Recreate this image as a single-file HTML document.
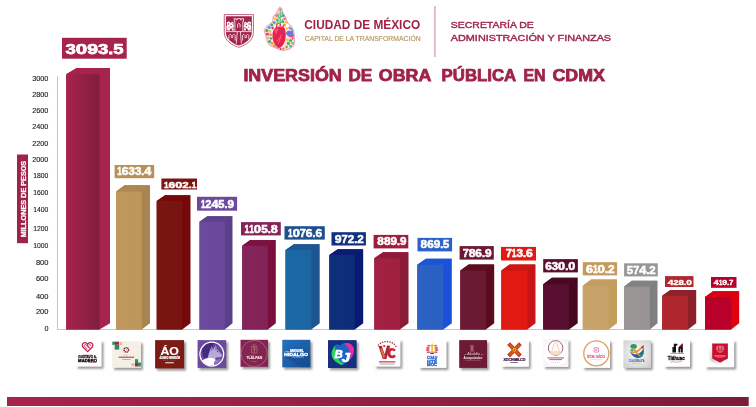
<!DOCTYPE html>
<html><head><meta charset="utf-8"><title>Inversión de obra pública en CDMX</title>
<style>
html,body{margin:0;padding:0;background:#fff;}
body{width:756px;height:407px;overflow:hidden;font-family:"Liberation Sans",sans-serif;}
svg{display:block;font-family:"Liberation Sans",sans-serif;}
</style></head><body>
<svg width="756" height="407" viewBox="0 0 756 407">
<rect width="756" height="407" fill="#fff"/>
<g style="opacity:0.999">
<!-- shield -->
<g id="shield">
<path d="M224.3,14.6 H253.4 V32.5 C253.4,40.5 246,45.2 238.85,47.3 C231.7,45.2 224.3,40.5 224.3,32.5 Z" fill="#fff" stroke="#a6234b" stroke-width="0.7"/>
<path d="M225.9,16.2 H251.8 V32.3 C251.8,39.4 245.2,43.6 238.85,45.6 C232.5,43.6 225.9,39.4 225.9,32.3 Z" fill="#a6234b"/>
<g fill="none" stroke="#fff" stroke-width="0.75">
<path d="M225.9,31.6 H251.8"/>
<path d="M234.9,31.6 V21.4 H234.2 V18.6 H235.9 V19.9 H237.2 V18.6 H240.5 V19.9 H241.8 V18.6 H243.5 V21.4 H242.8 V31.6"/>
<path d="M237.6,27.6 V24.2 Q238.85,22.6 240.1,24.2 V27.6"/>
<path d="M228.9,39.4 V35.4 Q230.1,33 231.3,35.4 V37.6 H232.7 V35.4 Q233.9,33 235.1,35.4 V40.6"/>
<path d="M242.6,40.6 V35.4 Q243.8,33 245,35.4 V37.6 H246.4 V35.4 Q247.6,33 248.8,35.4 V39.4"/>
<path d="M237.3,31.6 L236.3,43.6 M240.4,31.6 L241.4,43.6"/>
</g>
<g fill="#fff">
<path d="M226.6,30.4 L226.4,27 L227.2,24.4 L226.6,22.6 L228.2,21.4 L229.8,21.8 L230.6,23.2 L232,21.8 L233.6,22.6 L233.4,24.6 L234.2,26.4 L233.2,27.6 L234,30.4 L232,30.4 L231.6,28.6 L230.2,28.4 L229.8,30.4 Z"/>
<path d="M251.1,30.4 L251.3,27 L250.5,24.4 L251.1,22.6 L249.5,21.4 L247.9,21.8 L247.1,23.2 L245.7,21.8 L244.1,22.6 L244.3,24.6 L243.5,26.4 L244.5,27.6 L243.7,30.4 L245.7,30.4 L246.1,28.6 L247.5,28.4 L247.9,30.4 Z"/>
</g>
<g fill="#a6234b">
<circle cx="228.6" cy="24" r="0.65"/><circle cx="231.2" cy="25.4" r="0.7"/><circle cx="229" cy="27" r="0.6"/><circle cx="232.4" cy="23.6" r="0.45"/><circle cx="232.2" cy="28" r="0.5"/><circle cx="227.6" cy="29" r="0.45"/>
<circle cx="249.1" cy="24" r="0.65"/><circle cx="246.5" cy="25.4" r="0.7"/><circle cx="248.7" cy="27" r="0.6"/><circle cx="245.3" cy="23.6" r="0.45"/><circle cx="245.5" cy="28" r="0.5"/><circle cx="250.1" cy="29" r="0.45"/>
</g>
</g>
<!-- cdmx heart emblem -->
<g id="cdmx">
<path d="M279.9,7.2 L281.9,9.3 L283.2,13.9 L285.8,17.9 L287.8,23.2 L291.8,27.2 L293.8,32.5 L294.5,39.1 L293.8,45.8 L289.2,49.1 L282.5,50.5 L275.9,47.8 L270.6,45.8 L267.3,41.8 L266,36.5 L264.2,30.5 L267.3,25.9 L272.6,21.9 L273.2,16.6 L275.9,13.9 Z" fill="#fbe3ea" stroke="#f3adc2" stroke-width="1.3" stroke-linejoin="round"/>
<g>
<circle cx="276.6" cy="15.6" r="1.3" fill="#ef6a9a"/><circle cx="275" cy="18.6" r="1.4" fill="#f3c623"/><circle cx="277.4" cy="20.2" r="1.2" fill="#3fae5c"/>
<circle cx="274.2" cy="22.6" r="1.4" fill="#2e9fd8"/><circle cx="276.8" cy="24" r="1.3" fill="#f39a23"/><circle cx="271.8" cy="25" r="1.5" fill="#3fae5c"/>
<circle cx="269.2" cy="27.6" r="1.5" fill="#2e9fd8"/><circle cx="272.6" cy="28" r="1.2" fill="#e8305a"/><circle cx="266.8" cy="30.6" r="1.5" fill="#3fae5c"/>
<circle cx="269.8" cy="31.4" r="1.4" fill="#f3c623"/><circle cx="267.4" cy="34.2" r="1.4" fill="#e8305a"/><circle cx="270.6" cy="34.8" r="1.3" fill="#ef6a9a"/>
<circle cx="268.2" cy="37.8" r="1.5" fill="#f3c623"/><circle cx="271" cy="38.4" r="1.2" fill="#2e9fd8"/><circle cx="269.6" cy="41.4" r="1.5" fill="#3fae5c"/>
<circle cx="272.2" cy="43.4" r="1.4" fill="#f39a23"/><circle cx="274.6" cy="45.8" r="1.4" fill="#c9953e"/><circle cx="277.6" cy="47.4" r="1.2" fill="#ef6a9a"/>
<circle cx="283.4" cy="15.6" r="1.3" fill="#2e9fd8"/><circle cx="284.6" cy="18.8" r="1.3" fill="#ef6a9a"/><circle cx="283" cy="21.6" r="1.3" fill="#3fae5c"/>
<circle cx="286" cy="22" r="1.3" fill="#f3c623"/><circle cx="284.6" cy="24.8" r="1.2" fill="#f39a23"/><circle cx="287.8" cy="25.4" r="1.3" fill="#fff"/>
<circle cx="289.6" cy="28" r="1.2" fill="#ef6a9a"/><circle cx="287" cy="28.6" r="1.1" fill="#f3c623"/>
<circle cx="287.4" cy="39.8" r="1.4" fill="#f3c623"/><circle cx="290.6" cy="40.4" r="1.5" fill="#3fae5c"/><circle cx="292.6" cy="43.2" r="1.3" fill="#5cc26e"/>
<circle cx="288.4" cy="43.4" r="1.6" fill="#3fae5c"/><circle cx="290.6" cy="46.2" r="1.4" fill="#5cc26e"/><circle cx="286.6" cy="47" r="1.4" fill="#c9953e"/>
<circle cx="283.4" cy="48.6" r="1.2" fill="#c9953e"/><circle cx="280.6" cy="49" r="1" fill="#e8305a"/><circle cx="292.6" cy="38.4" r="1" fill="#e8305a"/>
</g>
<!-- cactus -->
<path d="M280.2,10 V26 M278.2,13.6 V18 H280.2 M282.2,12 V16.4 H280.2 M277.8,20.6 V23.4 H280.2 M282.4,19.6 V22.4 H280.2" fill="none" stroke="#55b86c" stroke-width="1.15" stroke-linecap="round"/>
<circle cx="280.2" cy="9.4" r="1" fill="#ef6a9a"/>
<!-- bird -->
<path d="M285.4,33.4 Q287.6,29.6 291,31 L293.8,29.8 L292.8,32.4 L294.4,35.6 Q290,38 285.4,33.4 Z" fill="#4f8ad8"/>
<path d="M286,33.8 Q289.6,36.6 294,35.6 L293.2,37.2 Q289,38.4 286,33.8 Z" fill="#e84a9a"/>
<path d="M287.6,32 Q290,31 292,32.6 Q290,34 287.6,32 Z" fill="#8a5fd0"/>
<circle cx="291.4" cy="29" r="1.2" fill="#3ab0e0"/>
<!-- heart -->
<path d="M279.3,47.9 C275.6,46.8 272.3,41.8 272.5,35.6 C272.6,30.4 275.2,26.6 278.4,26.8 C279.8,26.9 280.4,27.8 281,27 C281.8,25.8 284,26.4 284.9,29 C286.2,33 286,39.2 284.3,42.8 C283.2,45.2 281.4,47.5 279.3,47.9 Z" fill="#e8224f"/>
<path d="M274.4,30.4 C275.6,28.2 278,27.6 279.6,28.8 C278,29.6 276.6,31.6 276.4,34.6 C275.4,33.6 274.4,32 274.4,30.4 Z" fill="#f0557a"/>
<path d="M276.6,41.6 Q279.6,38.6 281.6,34.8 M278.4,43.6 Q280,40 280.6,36.8" fill="none" stroke="#f5a6bc" stroke-width="0.5"/>
<path d="M276.4,27.6 L277,24.8 M280,27 L280.4,24.4 M283,27 L283.6,25.2" stroke="#e8224f" stroke-width="1.1" stroke-linecap="round"/>
</g>
<!-- texts -->
<text x="304.3" y="28.8" font-size="12.1" font-weight="bold" fill="#9f2245" textLength="115.9" lengthAdjust="spacingAndGlyphs">CIUDAD DE MÉXICO</text>
<text x="304.7" y="40.5" font-size="7.5" fill="#b5935f" stroke="#b5935f" stroke-width="0.15" textLength="116" lengthAdjust="spacingAndGlyphs">CAPITAL DE LA TRANSFORMACIÓN</text>
<rect x="434.4" y="6" width="1.1" height="51" fill="#c98a9c"/>
<text x="450.8" y="28" font-size="9.3" fill="#a0284e" stroke="#a0284e" stroke-width="0.42" textLength="83" lengthAdjust="spacingAndGlyphs">SECRETARÍA DE</text>
<text x="450.8" y="40.8" font-size="9.5" fill="#a0284e" stroke="#a0284e" stroke-width="0.42" textLength="160.3" lengthAdjust="spacingAndGlyphs">ADMINISTRACIÓN Y FINANZAS</text>
<g font-size="15.9" font-weight="bold" fill="#9f2247" stroke="#9f2247" stroke-width="0.75">
<text x="243.4" y="80.7" textLength="98.3" lengthAdjust="spacingAndGlyphs">INVERSIÓN</text>
<text x="348.4" y="80.7" textLength="23.8" lengthAdjust="spacingAndGlyphs">DE</text>
<text x="378.8" y="80.7" textLength="52.5" lengthAdjust="spacingAndGlyphs">OBRA</text>
<text x="441.6" y="80.7" textLength="74.6" lengthAdjust="spacingAndGlyphs">PÚBLICA</text>
<text x="523.5" y="80.7" textLength="22.1" lengthAdjust="spacingAndGlyphs">EN</text>
<text x="552.5" y="80.7" textLength="52.5" lengthAdjust="spacingAndGlyphs">CDMX</text>
</g>

<defs>
<linearGradient id="g0" x1="0" x2="1" y1="0" y2="0"><stop offset="0" stop-color="#a8234c"/><stop offset="1" stop-color="#7f1e3e"/></linearGradient>
<linearGradient id="g1" x1="0" x2="1" y1="0" y2="0"><stop offset="0" stop-color="#c0975c"/><stop offset="1" stop-color="#be955a"/></linearGradient>
<linearGradient id="g2" x1="0" x2="1" y1="0" y2="0"><stop offset="0" stop-color="#7a1612"/><stop offset="1" stop-color="#781410"/></linearGradient>
<linearGradient id="g3" x1="0" x2="1" y1="0" y2="0"><stop offset="0" stop-color="#6b4a9e"/><stop offset="1" stop-color="#6a499c"/></linearGradient>
<linearGradient id="g4" x1="0" x2="1" y1="0" y2="0"><stop offset="0" stop-color="#84245a"/><stop offset="1" stop-color="#822358"/></linearGradient>
<linearGradient id="g5" x1="0" x2="1" y1="0" y2="0"><stop offset="0" stop-color="#1a69a6"/><stop offset="1" stop-color="#1a66a2"/></linearGradient>
<linearGradient id="g6" x1="0" x2="1" y1="0" y2="0"><stop offset="0" stop-color="#0f2f7c"/><stop offset="1" stop-color="#0e2d78"/></linearGradient>
<linearGradient id="g7" x1="0" x2="1" y1="0" y2="0"><stop offset="0" stop-color="#a32142"/><stop offset="1" stop-color="#a02040"/></linearGradient>
<linearGradient id="g8" x1="0" x2="1" y1="0" y2="0"><stop offset="0" stop-color="#2a62c4"/><stop offset="1" stop-color="#2a60c0"/></linearGradient>
<linearGradient id="g9" x1="0" x2="1" y1="0" y2="0"><stop offset="0" stop-color="#6b1a34"/><stop offset="1" stop-color="#691932"/></linearGradient>
<linearGradient id="g10" x1="0" x2="1" y1="0" y2="0"><stop offset="0" stop-color="#e31a13"/><stop offset="1" stop-color="#e01812"/></linearGradient>
<linearGradient id="g11" x1="0" x2="1" y1="0" y2="0"><stop offset="0" stop-color="#5a0f30"/><stop offset="1" stop-color="#580e2e"/></linearGradient>
<linearGradient id="g12" x1="0" x2="1" y1="0" y2="0"><stop offset="0" stop-color="#c8a46a"/><stop offset="1" stop-color="#c6a268"/></linearGradient>
<linearGradient id="g13" x1="0" x2="1" y1="0" y2="0"><stop offset="0" stop-color="#9a9696"/><stop offset="1" stop-color="#989494"/></linearGradient>
<linearGradient id="g14" x1="0" x2="1" y1="0" y2="0"><stop offset="0" stop-color="#b0272d"/><stop offset="1" stop-color="#ae262c"/></linearGradient>
<linearGradient id="g15" x1="0" x2="1" y1="0" y2="0"><stop offset="0" stop-color="#ba002a"/><stop offset="1" stop-color="#b8002a"/></linearGradient>
<linearGradient id="band" x1="0" x2="1"><stop offset="0" stop-color="#a8234c"/><stop offset="1" stop-color="#7a1c3c"/></linearGradient>
<filter id="sh" x="-20%" y="-20%" width="150%" height="150%"><feGaussianBlur stdDeviation="1.3"/></filter>
</defs>
<line x1="57.5" y1="76" x2="57.5" y2="329.5" stroke="#c4c4c4" stroke-width="1"/>
<line x1="57" y1="329.5" x2="731.5" y2="329.5" stroke="#c9c9c9" stroke-width="1"/>
<text x="32.2" y="80.9" font-size="6.8" textLength="16.2" lengthAdjust="spacingAndGlyphs" fill="#1a1a1a" stroke="#1a1a1a" stroke-width="0.12">3000</text>
<text x="32.2" y="96.7" font-size="6.8" textLength="16.2" lengthAdjust="spacingAndGlyphs" fill="#1a1a1a" stroke="#1a1a1a" stroke-width="0.12">2800</text>
<text x="32.2" y="112.6" font-size="6.8" textLength="16.2" lengthAdjust="spacingAndGlyphs" fill="#1a1a1a" stroke="#1a1a1a" stroke-width="0.12">2600</text>
<text x="32.2" y="129.1" font-size="6.8" textLength="16.2" lengthAdjust="spacingAndGlyphs" fill="#1a1a1a" stroke="#1a1a1a" stroke-width="0.12">2400</text>
<text x="32.2" y="145.7" font-size="6.8" textLength="16.2" lengthAdjust="spacingAndGlyphs" fill="#1a1a1a" stroke="#1a1a1a" stroke-width="0.12">2200</text>
<text x="32.2" y="161.6" font-size="6.8" textLength="16.2" lengthAdjust="spacingAndGlyphs" fill="#1a1a1a" stroke="#1a1a1a" stroke-width="0.12">2000</text>
<text x="33.2" y="178.4" font-size="6.8" textLength="15.2" lengthAdjust="spacingAndGlyphs" fill="#1a1a1a" stroke="#1a1a1a" stroke-width="0.12">1800</text>
<text x="33.2" y="194.9" font-size="6.8" textLength="15.2" lengthAdjust="spacingAndGlyphs" fill="#1a1a1a" stroke="#1a1a1a" stroke-width="0.12">1600</text>
<text x="33.2" y="212.2" font-size="6.8" textLength="15.2" lengthAdjust="spacingAndGlyphs" fill="#1a1a1a" stroke="#1a1a1a" stroke-width="0.12">1400</text>
<text x="33.2" y="230.9" font-size="6.8" textLength="15.2" lengthAdjust="spacingAndGlyphs" fill="#1a1a1a" stroke="#1a1a1a" stroke-width="0.12">1200</text>
<text x="33.2" y="247.7" font-size="6.8" textLength="15.2" lengthAdjust="spacingAndGlyphs" fill="#1a1a1a" stroke="#1a1a1a" stroke-width="0.12">1000</text>
<text x="35.9" y="265.1" font-size="6.8" textLength="12.5" lengthAdjust="spacingAndGlyphs" fill="#1a1a1a" stroke="#1a1a1a" stroke-width="0.12">800</text>
<text x="35.9" y="281.1" font-size="6.8" textLength="12.5" lengthAdjust="spacingAndGlyphs" fill="#1a1a1a" stroke="#1a1a1a" stroke-width="0.12">600</text>
<text x="35.9" y="298.9" font-size="6.8" textLength="12.5" lengthAdjust="spacingAndGlyphs" fill="#1a1a1a" stroke="#1a1a1a" stroke-width="0.12">400</text>
<text x="35.9" y="313.7" font-size="6.8" textLength="12.5" lengthAdjust="spacingAndGlyphs" fill="#1a1a1a" stroke="#1a1a1a" stroke-width="0.12">200</text>
<text x="44.4" y="330.7" font-size="6.8" textLength="4.0" lengthAdjust="spacingAndGlyphs" fill="#1a1a1a" stroke="#1a1a1a" stroke-width="0.12">0</text>
<rect x="17" y="154.5" width="11" height="88.7" fill="#9f2247"/>
<text transform="translate(25.9,237.3) rotate(-90)" font-size="6.3" font-weight="bold" fill="#fff" stroke="#fff" stroke-width="0.25" textLength="76.5" lengthAdjust="spacingAndGlyphs">MILLONES DE PESOS</text>
<polygon points="66.2,74.2 76.7,68.0 110.0,68.0 110.0,323.3 99.5,329.5 66.2,329.5" fill="#a6234b"/>
<polygon points="66.2,74.2 76.7,68.0 110.0,68.0 99.8,74.5 " fill="#a6234b"/>
<rect x="66.2" y="74.2" width="33.3" height="255.3" fill="url(#g0)"/>
<polygon points="116.2,191.5 124.50000000000001,185.2 150.0,185.2 150.0,323.3 141.7,329.5 116.2,329.5" fill="#a88450"/>
<polygon points="116.2,191.5 124.50000000000001,185.2 150.0,185.2 142.0,191.8 " fill="#ac8752"/>
<rect x="116.2" y="191.5" width="25.5" height="138.0" fill="url(#g1)"/>
<polygon points="156.7,201.0 165.0,195.2 190.5,195.2 190.5,323.3 182.2,329.5 156.7,329.5" fill="#750808"/>
<polygon points="156.7,201.0 165.0,195.2 190.5,195.2 182.5,201.3 " fill="#760a0a"/>
<rect x="156.7" y="201.0" width="25.5" height="128.5" fill="url(#g2)"/>
<polygon points="199.5,221.7 207.3,216.2 232.5,216.2 232.5,323.3 224.7,329.5 199.5,329.5" fill="#5c3f8a"/>
<polygon points="199.5,221.7 207.3,216.2 232.5,216.2 225.0,222.0 " fill="#5e418d"/>
<rect x="199.5" y="221.7" width="25.2" height="107.8" fill="url(#g3)"/>
<polygon points="242.2,245.8 250.2,240.0 275.8,240.0 275.8,323.3 267.8,329.5 242.2,329.5" fill="#7a0f3e"/>
<polygon points="242.2,245.8 250.2,240.0 275.8,240.0 268.1,246.10000000000002 " fill="#7c1242"/>
<rect x="242.2" y="245.8" width="25.6" height="83.7" fill="url(#g4)"/>
<polygon points="285.5,250.0 293.9,244.2 319.7,244.2 319.7,323.3 311.3,329.5 285.5,329.5" fill="#1f5490"/>
<polygon points="285.5,250.0 293.9,244.2 319.7,244.2 311.6,250.3 " fill="#1e5793"/>
<rect x="285.5" y="250.0" width="25.8" height="79.5" fill="url(#g5)"/>
<polygon points="329.3,255.0 337.7,249.2 363.2,249.2 363.2,323.3 354.8,329.5 329.3,329.5" fill="#0a1a72"/>
<polygon points="329.3,255.0 337.7,249.2 363.2,249.2 355.1,255.3 " fill="#0b1d73"/>
<rect x="329.3" y="255.0" width="25.5" height="74.5" fill="url(#g6)"/>
<polygon points="374.3,258.3 383.0,252.2 408.5,252.2 408.5,323.3 399.8,329.5 374.3,329.5" fill="#8a1a38"/>
<polygon points="374.3,258.3 383.0,252.2 408.5,252.2 400.1,258.6 " fill="#8e1b3a"/>
<rect x="374.3" y="258.3" width="25.5" height="71.2" fill="url(#g7)"/>
<polygon points="417.3,264.7 425.90000000000003,258.8 451.8,258.8 451.8,323.3 443.2,329.5 417.3,329.5" fill="#1c50d8"/>
<polygon points="417.3,264.7 425.90000000000003,258.8 451.8,258.8 443.5,265.0 " fill="#1e53d5"/>
<rect x="417.3" y="264.7" width="25.9" height="64.8" fill="url(#g8)"/>
<polygon points="460.3,270.5 468.7,264.5 494.2,264.5 494.2,323.3 485.8,329.5 460.3,329.5" fill="#5a0a1c"/>
<polygon points="460.3,270.5 468.7,264.5 494.2,264.5 486.1,270.8 " fill="#5d0c20"/>
<rect x="460.3" y="270.5" width="25.5" height="59.0" fill="url(#g9)"/>
<polygon points="501.3,270.5 509.59999999999997,264.5 535.5,264.5 535.5,323.3 527.2,329.5 501.3,329.5" fill="#c81414"/>
<polygon points="501.3,270.5 509.59999999999997,264.5 535.5,264.5 527.5,270.8 " fill="#cc1514"/>
<rect x="501.3" y="270.5" width="25.9" height="59.0" fill="url(#g10)"/>
<polygon points="543.2,284.2 551.9000000000001,277.8 577.7,277.8 577.7,323.3 569.0,329.5 543.2,329.5" fill="#45081f"/>
<polygon points="543.2,284.2 551.9000000000001,277.8 577.7,277.8 569.3,284.5 " fill="#480922"/>
<rect x="543.2" y="284.2" width="25.8" height="45.3" fill="url(#g11)"/>
<polygon points="582.8,285.8 591.0999999999999,279.5 617.0,279.5 617.0,323.3 608.7,329.5 582.8,329.5" fill="#c49c5e"/>
<polygon points="582.8,285.8 591.0999999999999,279.5 617.0,279.5 609.0,286.1 " fill="#c59d60"/>
<rect x="582.8" y="285.8" width="25.9" height="43.7" fill="url(#g12)"/>
<polygon points="624.0,286.7 631.7,280.8 657.5,280.8 657.5,323.3 649.8,329.5 624.0,329.5" fill="#7f7f7f"/>
<polygon points="624.0,286.7 631.7,280.8 657.5,280.8 650.0999999999999,287.0 " fill="#838282"/>
<rect x="624.0" y="286.7" width="25.8" height="42.8" fill="url(#g13)"/>
<polygon points="662.2,295.8 670.4000000000001,290.0 696.2,290.0 696.2,323.3 688.0,329.5 662.2,329.5" fill="#8c2028"/>
<polygon points="662.2,295.8 670.4000000000001,290.0 696.2,290.0 688.3,296.1 " fill="#912129"/>
<rect x="662.2" y="295.8" width="25.8" height="33.7" fill="url(#g14)"/>
<polygon points="705.0,297.0 713.0,291.2 739.2,291.2 739.2,323.3 731.2,329.5 705.0,329.5" fill="#e0000f"/>
<polygon points="705.0,297.0 713.0,291.2 739.2,291.2 731.5,297.3 " fill="#da0013"/>
<rect x="705.0" y="297.0" width="26.2" height="32.5" fill="url(#g15)"/>
<rect x="62.0" y="37.8" width="64.7" height="20.9" fill="#a6234b"/>
<g font-size="15.0" font-weight="bold" fill="#fff" stroke="#fff" stroke-width="0.75">
<text x="65.52" y="54.2" textLength="10.29" lengthAdjust="spacingAndGlyphs">3</text>
<text x="75.82" y="54.2" textLength="11.43" lengthAdjust="spacingAndGlyphs">0</text>
<text x="87.25" y="54.2" textLength="10.78" lengthAdjust="spacingAndGlyphs">9</text>
<text x="98.03" y="54.2" textLength="10.29" lengthAdjust="spacingAndGlyphs">3</text>
<text x="108.32" y="54.2" textLength="4.90" lengthAdjust="spacingAndGlyphs">.</text>
<text x="113.22" y="54.2" textLength="10.29" lengthAdjust="spacingAndGlyphs">5</text>
</g>
<rect x="114.6" y="165.0" width="39.6" height="13.2" fill="#b8915a"/>
<g font-size="10.1" font-weight="bold" fill="#fff" stroke="#fff" stroke-width="0.51">
<text x="117.30" y="175.2" textLength="4.55" lengthAdjust="spacingAndGlyphs">1</text>
<text x="121.86" y="175.2" textLength="6.68" lengthAdjust="spacingAndGlyphs">6</text>
<text x="128.53" y="175.2" textLength="6.37" lengthAdjust="spacingAndGlyphs">3</text>
<text x="134.91" y="175.2" textLength="6.37" lengthAdjust="spacingAndGlyphs">3</text>
<text x="141.28" y="175.2" textLength="3.03" lengthAdjust="spacingAndGlyphs">.</text>
<text x="144.31" y="175.2" textLength="7.08" lengthAdjust="spacingAndGlyphs">4</text>
</g>
<rect x="161.4" y="178.5" width="35.6" height="11.0" fill="#7a1612"/>
<g font-size="9.7" font-weight="bold" fill="#fff" stroke="#fff" stroke-width="0.49">
<text x="164.02" y="187.6" textLength="4.56" lengthAdjust="spacingAndGlyphs">1</text>
<text x="168.59" y="187.6" textLength="6.69" lengthAdjust="spacingAndGlyphs">6</text>
<text x="175.28" y="187.6" textLength="7.10" lengthAdjust="spacingAndGlyphs">0</text>
<text x="182.37" y="187.6" textLength="6.39" lengthAdjust="spacingAndGlyphs">2</text>
<text x="188.76" y="187.6" textLength="3.04" lengthAdjust="spacingAndGlyphs">.</text>
<text x="191.80" y="187.6" textLength="4.56" lengthAdjust="spacingAndGlyphs">1</text>
</g>
<rect x="197.0" y="196.8" width="40.1" height="13.9" fill="#6b4a9e"/>
<g font-size="10.0" font-weight="bold" fill="#fff" stroke="#fff" stroke-width="0.50">
<text x="200.92" y="207.5" textLength="4.40" lengthAdjust="spacingAndGlyphs">1</text>
<text x="205.32" y="207.5" textLength="6.16" lengthAdjust="spacingAndGlyphs">2</text>
<text x="211.48" y="207.5" textLength="6.85" lengthAdjust="spacingAndGlyphs">4</text>
<text x="218.33" y="207.5" textLength="6.16" lengthAdjust="spacingAndGlyphs">5</text>
<text x="224.49" y="207.5" textLength="2.93" lengthAdjust="spacingAndGlyphs">.</text>
<text x="227.42" y="207.5" textLength="6.46" lengthAdjust="spacingAndGlyphs">9</text>
</g>
<rect x="241.0" y="222.1" width="39.8" height="13.3" fill="#84245a"/>
<g font-size="10.3" font-weight="bold" fill="#fff" stroke="#fff" stroke-width="0.51">
<text x="244.51" y="232.5" textLength="4.68" lengthAdjust="spacingAndGlyphs">1</text>
<text x="249.19" y="232.5" textLength="4.68" lengthAdjust="spacingAndGlyphs">1</text>
<text x="253.87" y="232.5" textLength="7.28" lengthAdjust="spacingAndGlyphs">0</text>
<text x="261.15" y="232.5" textLength="6.55" lengthAdjust="spacingAndGlyphs">5</text>
<text x="267.70" y="232.5" textLength="3.12" lengthAdjust="spacingAndGlyphs">.</text>
<text x="270.82" y="232.5" textLength="6.97" lengthAdjust="spacingAndGlyphs">8</text>
</g>
<rect x="284.5" y="226.2" width="40.3" height="13.4" fill="#1e4f8f"/>
<g font-size="10.1" font-weight="bold" fill="#fff" stroke="#fff" stroke-width="0.51">
<text x="288.10" y="236.8" textLength="4.57" lengthAdjust="spacingAndGlyphs">1</text>
<text x="292.67" y="236.8" textLength="7.10" lengthAdjust="spacingAndGlyphs">0</text>
<text x="299.77" y="236.8" textLength="6.09" lengthAdjust="spacingAndGlyphs">7</text>
<text x="305.86" y="236.8" textLength="6.70" lengthAdjust="spacingAndGlyphs">6</text>
<text x="312.56" y="236.8" textLength="3.04" lengthAdjust="spacingAndGlyphs">.</text>
<text x="315.60" y="236.8" textLength="6.70" lengthAdjust="spacingAndGlyphs">6</text>
</g>
<rect x="331.5" y="232.2" width="34.4" height="13.3" fill="#11317f"/>
<g font-size="10.3" font-weight="bold" fill="#fff" stroke="#fff" stroke-width="0.51">
<text x="334.76" y="243.0" textLength="6.80" lengthAdjust="spacingAndGlyphs">9</text>
<text x="341.56" y="243.0" textLength="6.18" lengthAdjust="spacingAndGlyphs">7</text>
<text x="347.74" y="243.0" textLength="6.49" lengthAdjust="spacingAndGlyphs">2</text>
<text x="354.23" y="243.0" textLength="3.09" lengthAdjust="spacingAndGlyphs">.</text>
<text x="357.32" y="243.0" textLength="6.49" lengthAdjust="spacingAndGlyphs">2</text>
</g>
<rect x="373.6" y="234.9" width="34.7" height="13.5" fill="#9c1f3c"/>
<g font-size="10.3" font-weight="bold" fill="#fff" stroke="#fff" stroke-width="0.51">
<text x="377.36" y="245.4" textLength="6.57" lengthAdjust="spacingAndGlyphs">8</text>
<text x="383.94" y="245.4" textLength="6.57" lengthAdjust="spacingAndGlyphs">8</text>
<text x="390.51" y="245.4" textLength="6.48" lengthAdjust="spacingAndGlyphs">9</text>
<text x="396.99" y="245.4" textLength="2.94" lengthAdjust="spacingAndGlyphs">.</text>
<text x="399.93" y="245.4" textLength="6.48" lengthAdjust="spacingAndGlyphs">9</text>
</g>
<rect x="417.5" y="237.9" width="34.6" height="13.5" fill="#2a62c8"/>
<g font-size="10.3" font-weight="bold" fill="#fff" stroke="#fff" stroke-width="0.51">
<text x="420.57" y="248.3" textLength="6.59" lengthAdjust="spacingAndGlyphs">8</text>
<text x="427.16" y="248.3" textLength="6.50" lengthAdjust="spacingAndGlyphs">6</text>
<text x="433.65" y="248.3" textLength="6.50" lengthAdjust="spacingAndGlyphs">9</text>
<text x="440.15" y="248.3" textLength="2.95" lengthAdjust="spacingAndGlyphs">.</text>
<text x="443.10" y="248.3" textLength="6.20" lengthAdjust="spacingAndGlyphs">5</text>
</g>
<rect x="459.6" y="246.1" width="34.2" height="13.5" fill="#6b1a34"/>
<g font-size="10.1" font-weight="bold" fill="#fff" stroke="#fff" stroke-width="0.51">
<text x="462.66" y="256.8" textLength="6.01" lengthAdjust="spacingAndGlyphs">7</text>
<text x="468.67" y="256.8" textLength="6.71" lengthAdjust="spacingAndGlyphs">8</text>
<text x="475.38" y="256.8" textLength="6.61" lengthAdjust="spacingAndGlyphs">6</text>
<text x="481.99" y="256.8" textLength="3.00" lengthAdjust="spacingAndGlyphs">.</text>
<text x="485.00" y="256.8" textLength="6.61" lengthAdjust="spacingAndGlyphs">9</text>
</g>
<rect x="501.0" y="246.9" width="35.0" height="13.6" fill="#e31a13"/>
<g font-size="10.1" font-weight="bold" fill="#fff" stroke="#fff" stroke-width="0.51">
<text x="505.68" y="257.4" textLength="6.18" lengthAdjust="spacingAndGlyphs">7</text>
<text x="511.86" y="257.4" textLength="4.63" lengthAdjust="spacingAndGlyphs">1</text>
<text x="516.50" y="257.4" textLength="6.49" lengthAdjust="spacingAndGlyphs">3</text>
<text x="522.99" y="257.4" textLength="3.09" lengthAdjust="spacingAndGlyphs">.</text>
<text x="526.08" y="257.4" textLength="6.80" lengthAdjust="spacingAndGlyphs">6</text>
</g>
<rect x="543.2" y="259.1" width="34.7" height="13.3" fill="#5a0f30"/>
<g font-size="10.3" font-weight="bold" fill="#fff" stroke="#fff" stroke-width="0.51">
<text x="545.15" y="269.5" textLength="6.64" lengthAdjust="spacingAndGlyphs">6</text>
<text x="551.79" y="269.5" textLength="6.34" lengthAdjust="spacingAndGlyphs">3</text>
<text x="558.13" y="269.5" textLength="7.04" lengthAdjust="spacingAndGlyphs">0</text>
<text x="565.17" y="269.5" textLength="3.02" lengthAdjust="spacingAndGlyphs">.</text>
<text x="568.18" y="269.5" textLength="7.04" lengthAdjust="spacingAndGlyphs">0</text>
</g>
<rect x="582.8" y="262.2" width="34.3" height="13.2" fill="#c49a5e"/>
<g font-size="10.1" font-weight="bold" fill="#fff" stroke="#fff" stroke-width="0.51">
<text x="585.97" y="272.8" textLength="6.92" lengthAdjust="spacingAndGlyphs">6</text>
<text x="592.89" y="272.8" textLength="4.72" lengthAdjust="spacingAndGlyphs">1</text>
<text x="597.61" y="272.8" textLength="7.34" lengthAdjust="spacingAndGlyphs">0</text>
<text x="604.95" y="272.8" textLength="3.15" lengthAdjust="spacingAndGlyphs">.</text>
<text x="608.09" y="272.8" textLength="6.61" lengthAdjust="spacingAndGlyphs">2</text>
</g>
<rect x="624.1" y="263.3" width="33.7" height="13.1" fill="#9a9696"/>
<g font-size="10.4" font-weight="bold" fill="#fff" stroke="#fff" stroke-width="0.52">
<text x="626.86" y="274.0" textLength="6.35" lengthAdjust="spacingAndGlyphs">5</text>
<text x="633.22" y="274.0" textLength="6.05" lengthAdjust="spacingAndGlyphs">7</text>
<text x="639.27" y="274.0" textLength="7.06" lengthAdjust="spacingAndGlyphs">4</text>
<text x="646.33" y="274.0" textLength="3.03" lengthAdjust="spacingAndGlyphs">.</text>
<text x="649.35" y="274.0" textLength="6.35" lengthAdjust="spacingAndGlyphs">2</text>
</g>
<rect x="665.0" y="276.1" width="28.5" height="10.9" fill="#b0272d"/>
<g font-size="8.0" font-weight="bold" fill="#fff" stroke="#fff" stroke-width="0.40">
<text x="667.82" y="284.5" textLength="5.60" lengthAdjust="spacingAndGlyphs">4</text>
<text x="673.42" y="284.5" textLength="5.04" lengthAdjust="spacingAndGlyphs">2</text>
<text x="678.46" y="284.5" textLength="5.36" lengthAdjust="spacingAndGlyphs">8</text>
<text x="683.82" y="284.5" textLength="2.40" lengthAdjust="spacingAndGlyphs">.</text>
<text x="686.22" y="284.5" textLength="5.60" lengthAdjust="spacingAndGlyphs">0</text>
</g>
<rect x="711.0" y="277.0" width="25.5" height="10.8" fill="#b8002a"/>
<g font-size="8.0" font-weight="bold" fill="#fff" stroke="#fff" stroke-width="0.40">
<text x="713.87" y="285.2" textLength="5.05" lengthAdjust="spacingAndGlyphs">4</text>
<text x="718.93" y="285.2" textLength="3.25" lengthAdjust="spacingAndGlyphs">1</text>
<text x="722.18" y="285.2" textLength="4.77" lengthAdjust="spacingAndGlyphs">9</text>
<text x="726.94" y="285.2" textLength="2.17" lengthAdjust="spacingAndGlyphs">.</text>
<text x="729.11" y="285.2" textLength="4.33" lengthAdjust="spacingAndGlyphs">7</text>
</g>
<rect x="7" y="397" width="741.7" height="9" fill="url(#band)"/>
<defs>
<radialGradient id="cuaj" cx="0.5" cy="0.45" r="0.7"><stop offset="0" stop-color="#fbfbfb"/><stop offset="1" stop-color="#cfcfcf"/></radialGradient>
<linearGradient id="mh" x1="0" y1="0" x2="1" y2="1"><stop offset="0" stop-color="#2470bd"/><stop offset="1" stop-color="#174f96"/></linearGradient>
<clipPath id="c4"><circle cx="211.8" cy="354.1" r="11.4"/></clipPath>
<clipPath id="c5"><rect x="240.5" y="339.8" width="27.5" height="27"/></clipPath>
</defs>
<rect x="77.8" y="342.3" width="25.7" height="26.5" fill="#000" opacity="0.4" filter="url(#sh)"/>
<rect x="75.9" y="340.1" width="25.7" height="26.5" fill="#fff"/>
<rect x="114.2" y="343.4" width="28.7" height="26.6" fill="#000" opacity="0.4" filter="url(#sh)"/>
<rect x="112.3" y="341.2" width="28.7" height="26.6" fill="#f4f0e6"/>
<rect x="157.0" y="342.3" width="29.0" height="28.3" fill="#000" opacity="0.4" filter="url(#sh)"/>
<rect x="155.1" y="340.1" width="29.0" height="28.3" fill="#7c1a14"/>
<rect x="199.5" y="342.3" width="28.6" height="27.8" fill="#000" opacity="0.4" filter="url(#sh)"/>
<rect x="197.6" y="340.1" width="28.6" height="27.8" fill="#6b4a9e"/>
<rect x="242.4" y="342.0" width="27.5" height="27.0" fill="#000" opacity="0.4" filter="url(#sh)"/>
<rect x="240.5" y="339.8" width="27.5" height="27.0" fill="#842456"/>
<rect x="284.2" y="342.0" width="28.0" height="27.5" fill="#000" opacity="0.4" filter="url(#sh)"/>
<rect x="282.3" y="339.8" width="28.0" height="27.5" fill="url(#mh)"/>
<rect x="329.9" y="342.3" width="28.6" height="27.9" fill="#000" opacity="0.4" filter="url(#sh)"/>
<rect x="328.0" y="340.1" width="28.6" height="27.9" fill="#15307e"/>
<rect x="376.4" y="341.5" width="25.9" height="27.3" fill="#000" opacity="0.4" filter="url(#sh)"/>
<rect x="374.5" y="339.3" width="25.9" height="27.3" fill="#fff"/>
<rect x="420.9" y="342.0" width="27.5" height="28.1" fill="#000" opacity="0.4" filter="url(#sh)"/>
<rect x="419.0" y="339.8" width="27.5" height="28.1" fill="#fff"/>
<rect x="461.1" y="342.3" width="27.8" height="27.8" fill="#000" opacity="0.4" filter="url(#sh)"/>
<rect x="459.2" y="340.1" width="27.8" height="27.8" fill="#6e1a35"/>
<rect x="503.3" y="342.0" width="27.5" height="27.0" fill="#000" opacity="0.4" filter="url(#sh)"/>
<rect x="501.4" y="339.8" width="27.5" height="27.0" fill="#fff"/>
<rect x="545.3" y="341.5" width="24.9" height="27.5" fill="#000" opacity="0.4" filter="url(#sh)"/>
<rect x="543.4" y="339.3" width="24.9" height="27.5" fill="#fff"/>
<rect x="584.5" y="342.0" width="27.4" height="28.1" fill="#000" opacity="0.4" filter="url(#sh)"/>
<rect x="582.6" y="339.8" width="27.4" height="28.1" fill="#fff"/>
<rect x="625.3" y="342.5" width="27.5" height="27.6" fill="#000" opacity="0.4" filter="url(#sh)"/>
<rect x="623.4" y="340.3" width="27.5" height="27.6" fill="url(#cuaj)"/>
<rect x="666.0" y="342.0" width="25.9" height="27.0" fill="#000" opacity="0.4" filter="url(#sh)"/>
<rect x="664.1" y="339.8" width="25.9" height="27.0" fill="#fff"/>
<rect x="707.0" y="342.0" width="29.1" height="27.5" fill="#000" opacity="0.4" filter="url(#sh)"/>
<rect x="705.1" y="339.8" width="29.1" height="27.5" fill="#fff"/>
<g id="l1">
<path d="M87.6,351.6 L82.9,347 C81.6,345.4 82.4,343 84.5,342.7 C85.9,342.5 87,343.4 87.6,344.4 C88.2,343.4 89.3,342.5 90.7,342.7 C92.8,343 93.6,345.4 92.3,347 Z" fill="none" stroke="#b81f48" stroke-width="1.25"/>
<path d="M87.6,349.4 L84.6,346.3 C83.9,345.4 84.5,344.4 85.4,344.5 L89.4,348.2 M86.6,345 L90.2,348 M88.6,345.4 C89.4,344.2 91.2,344.6 90.8,346.2" fill="none" stroke="#b81f48" stroke-width="0.85"/>
<text x="78.3" y="358.1" font-size="3.6" font-weight="bold" fill="#111" stroke="#111" stroke-width="0.25" textLength="18.6" lengthAdjust="spacingAndGlyphs">GUSTAVO A.</text>
<text x="78.1" y="361.6" font-size="4.2" font-weight="bold" fill="#111" stroke="#111" stroke-width="0.35" textLength="19" lengthAdjust="spacingAndGlyphs">MADERO</text>
<rect x="89" y="362.3" width="7.6" height="0.6" fill="#b81f48" opacity="0.8"/>
<rect x="83" y="354.3" width="9" height="0.4" fill="#b81f48" opacity="0.5"/>
</g>
<g id="l2">
<rect x="112.3" y="341.7" width="2.7" height="3.1" fill="#2e8a63"/>
<rect x="115" y="341.7" width="4" height="3.1" fill="#a8244c"/>
<rect x="119.6" y="342.1" width="2.6" height="3.1" fill="#dcc08e"/>
<rect x="114.7" y="344.8" width="4.5" height="4.8" fill="#2e8a63"/>
<rect x="135" y="359.2" width="3.1" height="3.8" fill="#2e8a63"/>
<rect x="138.1" y="362.5" width="2.8" height="4" fill="#2e8a63"/>
<rect x="135" y="363" width="3.1" height="3.5" fill="#a8244c"/>
<rect x="131.3" y="363.3" width="3.2" height="2.8" fill="#dcc08e"/>
<circle cx="126.3" cy="349.9" r="2.2" fill="none" stroke="#7a1a3a" stroke-width="1.5" stroke-dasharray="1.1 0.62"/>
<circle cx="126.3" cy="349.9" r="1.2" fill="#fff"/><circle cx="126.3" cy="349.9" r="0.55" fill="#c9803a"/>
<rect x="122.6" y="354.8" width="5" height="0.5" fill="#9a8a80" opacity="0.6"/>
<rect x="118.6" y="356.6" width="15.5" height="1.3" fill="#b8305a" opacity="0.8"/>
<rect x="122.2" y="359.1" width="8.4" height="0.9" fill="#c9955a" opacity="0.8"/>
</g>
<g id="l3">
<text x="160.4" y="354.7" font-size="11.2" font-weight="bold" fill="#fff" stroke="#fff" stroke-width="0.2" textLength="18.4" lengthAdjust="spacingAndGlyphs">ÁO</text>
<text x="159.6" y="358.6" font-size="2.6" font-weight="bold" fill="#fff" stroke="#fff" stroke-width="0.2" textLength="20.4" lengthAdjust="spacingAndGlyphs">ÁLVARO OBREGÓN</text>
<g fill="#e9c9c4"><rect x="163" y="359.8" width="0.7" height="0.5"/><rect x="165.2" y="359.8" width="0.7" height="0.5"/><rect x="167.4" y="359.8" width="0.7" height="0.5"/><rect x="169.6" y="359.8" width="0.7" height="0.5"/><rect x="171.8" y="359.8" width="0.7" height="0.5"/><rect x="174" y="359.8" width="0.7" height="0.5"/></g>
<rect x="165.2" y="362.2" width="8.6" height="1.1" fill="#fff" opacity="0.85"/>
</g>
<g id="l4">
<g clip-path="url(#c4)">
<rect x="199" y="341" width="26" height="27" fill="#6b4a9e"/>
<path d="M202.4,347.4 Q207.6,341.8 214.6,342.6 L206.2,361 Q201.4,356 202.4,347.4 Z" fill="#45297f"/>
<path d="M207.6,357.8 L209.4,351.8 L211.5,346.4 L213.2,349.4 L215.6,345.8 L217.3,349.8 L222.4,355.2 L220.6,357.2 L216.8,357.2 L213.8,359.6 Z" fill="#b9a8dc"/>
<path d="M211.5,346.4 L213.2,349.4 L210.8,351.6 Z M215.6,345.8 L217.3,349.8 L214.8,350.4 Z" fill="#8e76bf"/>
<circle cx="217.4" cy="351.6" r="0.6" fill="#3a2270"/>
<path d="M201.4,361 Q206,357.2 211.2,357.8 Q214.6,358.2 216,360 Q213.4,362.4 214.2,364.8 Q210,367.2 206,365.8 Q202.8,364.2 201.4,361 Z" fill="#fff"/>
<path d="M214.2,364.8 Q213.4,362.4 216,360 L220.4,358.8 Q219.4,363.4 214.2,364.8 Z" fill="#8f78c4"/>
</g>
<circle cx="211.8" cy="354.1" r="11.9" fill="none" stroke="#fff" stroke-width="1.25"/>
</g>
<g id="l5">
<g clip-path="url(#c5)"><circle cx="254.2" cy="353.5" r="13.1" fill="none" stroke="#d08a6e" stroke-width="0.55"/></g>
<g fill="none" stroke="#c98a6a" stroke-width="0.55">
<path d="M251.6,346.6 H257 V352.4 Q254.3,354.4 251.6,352.4 Z"/>
<path d="M252,345.4 L253,344.4 L254.3,345.4 L255.6,344.4 L256.6,345.4"/>
<path d="M253,348 H255.6 M253,349.8 H255.6 M254.3,346.6 V353"/>
</g>
<text x="246.4" y="358.9" font-size="3.9" font-weight="bold" fill="#f0d9c8" stroke="#f0d9c8" stroke-width="0.2" textLength="15.8" lengthAdjust="spacingAndGlyphs">TLALPAN</text>
<rect x="249.6" y="355" width="4.4" height="0.5" fill="#d9a890" opacity="0.8"/>
<rect x="251.6" y="361.3" width="5.2" height="0.5" fill="#c98a6a" opacity="0.8"/>
</g>
<g id="l6">
<path d="M290,349 L304,349 L310.3,355.3 V367.3 H301 L284,356.5 Z" fill="#134a8e" opacity="0.55"/>
<text x="284.3" y="351.9" font-size="2" fill="#fff" textLength="5.4" lengthAdjust="spacingAndGlyphs">Alcaldía</text>
<text x="290" y="352.1" font-size="3.6" font-weight="bold" fill="#fff" stroke="#fff" stroke-width="0.25" textLength="14" lengthAdjust="spacingAndGlyphs">MIGUEL</text>
<text x="283.9" y="355.8" font-size="4.3" font-weight="bold" fill="#fff" stroke="#fff" stroke-width="0.35" textLength="24.2" lengthAdjust="spacingAndGlyphs">HIDALGO</text>
<rect x="292.4" y="356.7" width="11.4" height="0.7" fill="#fff" opacity="0.65"/>
</g>
<g id="l7">
<path d="M333.2,349.4 C332.6,345.6 337,343.2 340.4,345.4 C342.6,342.8 348.2,342.2 351.2,344.8 C354.8,348 354.2,354.8 350.2,359.2 C347.8,362 344.6,363.8 341.2,364.9 C336,361.6 331.6,356 333.2,349.4 Z" fill="#1b63c4"/>
<path d="M344.2,343.4 C348,342.2 352,343.8 353.4,347.2 C354.8,350.8 353.6,355.6 350.4,359 C350.8,353.6 349.4,347.2 344.2,343.4 Z" fill="#ea2a9e"/>
<path d="M335.4,346 C331.8,349 330.8,353.2 332.2,357 C333.6,360.8 337.4,363.4 341.4,364.9 C342.4,364.6 343.2,364.2 344,363.8 C338.4,361 334,353.6 335.4,346 Z" fill="#27d65c"/>
<text x="334.6" y="358" font-size="11" font-weight="bold" font-style="italic" fill="#fff" stroke="#fff" stroke-width="0.7" textLength="8.2" lengthAdjust="spacingAndGlyphs">B</text>
<text x="341.8" y="361.7" font-size="12" font-weight="bold" font-style="italic" fill="#fff" stroke="#fff" stroke-width="0.7" textLength="8.2" lengthAdjust="spacingAndGlyphs">J</text>
</g>
<g id="l8">
<g fill="#b8243c">
<circle cx="378.4" cy="345" r="0.8"/><circle cx="380.4" cy="343.4" r="0.8"/><circle cx="382.6" cy="342.3" r="0.8"/><circle cx="385" cy="341.7" r="0.8"/><circle cx="387.5" cy="341.6" r="0.8"/><circle cx="390" cy="342" r="0.8"/><circle cx="392.3" cy="342.9" r="0.8"/><circle cx="394.3" cy="344.3" r="0.8"/><circle cx="395.8" cy="346.2" r="0.8"/>
<circle cx="384.2" cy="346" r="1.1"/>
</g>
<path d="M378.4,346 L381.8,345.8 L384.6,354.2 L387,345.6 L390.2,345.8 L386.4,359 L382.8,359 Z" fill="#b4233c"/>
<path d="M380.2,348.6 L382,348.6 L385,356.4 L383.6,358.6 Z" fill="#e07a30"/>
<path d="M395.8,350 C393.4,346.6 387.4,347.4 387.4,353 C387.4,358.8 393.6,359.6 396,356.2 L394,354.4 C392.8,356.2 390.4,355.8 390.4,353 C390.4,350.2 392.8,349.8 394,351.6 Z" fill="#c0283c"/>
<rect x="379" y="361.2" width="16.4" height="1.3" fill="#c0283c" opacity="0.85"/>
<rect x="379.6" y="363.6" width="15" height="0.9" fill="#8a8a8a" opacity="0.8"/>
</g>
<g id="l9">
<g fill="#ea5a62">
<ellipse cx="428.6" cy="345.8" rx="1.5" ry="0.95"/><ellipse cx="427.9" cy="347.9" rx="1.9" ry="1"/><ellipse cx="427.7" cy="350.1" rx="2" ry="1"/><ellipse cx="428.3" cy="352.3" rx="1.8" ry="1"/>
<ellipse cx="435.6" cy="345.8" rx="1.5" ry="0.95"/><ellipse cx="436.3" cy="347.9" rx="1.9" ry="1"/><ellipse cx="436.5" cy="350.1" rx="2" ry="1"/><ellipse cx="435.9" cy="352.3" rx="1.8" ry="1"/>
</g>
<path d="M431.4,343.6 H432.8 V345 H434.2 V346.2 H432.9 V351.6 H431.3 V346.2 H430 V345 H431.4 Z" fill="#f4c21c"/>
<rect x="430.6" y="351" width="3" height="1.4" fill="#f4c21c"/>
<rect x="430.2" y="352.6" width="3.8" height="1.5" fill="#2f4fc4"/>
<g font-weight="bold" fill="#2c64cc" stroke="#2c64cc" stroke-width="0.3" font-size="3.7">
<text x="427" y="359.2" textLength="10.2" lengthAdjust="spacingAndGlyphs">CUAU</text>
<text x="427" y="362.5" textLength="10.2" lengthAdjust="spacingAndGlyphs">HTÉ</text>
<text x="427" y="365.8" textLength="10.2" lengthAdjust="spacingAndGlyphs">MOC</text>
</g>
</g>
<g id="l10">
<g fill="none" stroke="#c98a98" stroke-width="0.5">
<path d="M470.2,345 L473.8,351.4 M473.6,345 L470.4,351.4 M470,348.2 L474,348.2"/>
<circle cx="471.9" cy="346.4" r="1"/><circle cx="472" cy="350.2" r="1.2"/>
</g>
<text x="467.3" y="355" font-size="2.9" fill="#f0dfe4" opacity="0.9" textLength="12.8" lengthAdjust="spacingAndGlyphs">Alcaldía</text>
<text x="463.4" y="358.7" font-size="3.5" font-weight="bold" fill="#fff" opacity="0.92" textLength="18.8" lengthAdjust="spacingAndGlyphs">Azcapotzalco</text>
<rect x="465" y="359.9" width="15.6" height="0.45" fill="#d9b0ba" opacity="0.7"/>
<rect x="464" y="354" width="2.4" height="0.4" fill="#fff" opacity="0.7"/><rect x="481" y="354" width="2.4" height="0.4" fill="#fff" opacity="0.7"/>
</g>
<g id="l11">
<g stroke="#e0301c" stroke-width="4" stroke-linecap="butt">
<path d="M508.6,343.6 L520.4,356"/><path d="M520.4,343.6 L508.6,356"/>
</g>
<g stroke="#c9781c" stroke-width="1.9">
<path d="M509.4,344.4 L519.6,355.2"/><path d="M519.6,344.4 L509.4,355.2"/>
</g>
<g stroke="#8a3a14" stroke-width="1.9" stroke-dasharray="0.8 1.5" opacity="0.75">
<path d="M509.4,344.4 L519.6,355.2"/><path d="M519.6,344.4 L509.4,355.2"/>
</g>
<circle cx="514.5" cy="349.8" r="2" fill="#f0b81c"/><circle cx="514.5" cy="349.8" r="0.9" fill="#e0301c"/>
<text x="503.5" y="360.8" font-size="3.3" font-weight="bold" fill="#2a1040" stroke="#2a1040" stroke-width="0.22" textLength="22" lengthAdjust="spacingAndGlyphs">XOCHIMILCO</text>
<rect x="510.2" y="362.2" width="7.6" height="0.8" fill="#5a2030" opacity="0.8"/>
</g>
<g id="l12">
<rect x="543.4" y="339.3" width="24.9" height="27.5" fill="#f6f6f6"/>
<circle cx="555.7" cy="353.2" r="12.6" fill="#fff"/>
<circle cx="555.6" cy="347.9" r="7.3" fill="#fffcf8" stroke="#6e2244" stroke-width="0.7"/>
<path d="M551.4,353 L554.4,343.2 Q555.6,341.6 556.8,343.2 L559.8,353" fill="none" stroke="#e0b48a" stroke-width="0.6"/>
<path d="M549.6,351.6 Q552.6,352.8 554.4,351.4 Q556,350.2 557.6,351.6 Q559.6,353 561.8,351.6 L560,354.2 Q555.6,356.2 551.2,354.2 Z" fill="#f5e0cc" stroke="#e0b48a" stroke-width="0.3"/>
<rect x="547.4" y="357.5" width="16.6" height="0.9" fill="#8a2a5a" opacity="0.85"/>
<rect x="549.4" y="359.2" width="12.6" height="0.9" fill="#8a2a5a" opacity="0.8"/>
<g fill="#b06a8a"><rect x="550.6" y="362.2" width="0.7" height="0.5"/><rect x="552.8" y="362.2" width="0.7" height="0.5"/><rect x="555" y="362.2" width="0.7" height="0.5"/><rect x="557.2" y="362.2" width="0.7" height="0.5"/><rect x="559.4" y="362.2" width="0.7" height="0.5"/></g>
</g>
<g id="l13">
<circle cx="596.3" cy="353.4" r="12.5" fill="#fff" stroke="#dba25c" stroke-width="1.3"/>
<g fill="none" stroke="#e0508a" stroke-width="0.6"><rect x="594" y="347.6" width="4.6" height="4.6" rx="1"/><path d="M594.6,348.2 L598,351.6 M598,348.2 L594.6,351.6"/></g>
<text x="586.8" y="357.8" font-size="5" fill="#e2407e" stroke="#e2407e" stroke-width="0.1" textLength="18" lengthAdjust="spacingAndGlyphs">izta<tspan fill="#f29ab8" stroke="#f29ab8">c</tspan>alco</text>
<rect x="590.2" y="358.9" width="12" height="0.5" fill="#dcae7a" opacity="0.75"/>
</g>
<g id="l14">
<path d="M629.8,351 Q633.4,355.4 638,354 Q641.6,352.6 643.5,348.6 Q644.8,355.4 640,357.6 Q633.4,359.8 629.8,351 Z" fill="#2a5ea8"/>
<path d="M636,358.2 Q640.6,356.4 643.4,350 Q644.6,356 640,357.8 Q638,358.5 636,358.2 Z" fill="#1f8a6a"/>
<path d="M631,344.8 Q633.6,343.4 636.2,344.8 Q637.8,346.4 636.2,348.2 Q633.6,349.2 631.4,348.4 Q629.4,346.6 631,344.8 Z" fill="#2f9a5c"/>
<path d="M630.2,350 Q631.8,348.8 633.6,349.8 L633,351.6 Q631.4,352.2 630.2,350 Z" fill="#2f9a5c"/>
<path d="M633.6,347.8 L636.4,350.8 L642.6,346.4 L643.3,347.5 L637.2,352.4 L640.8,355.4 L639.8,356.4 L635.2,352.8 L631.8,353.8 L631.4,352.6 L634.4,351.4 L632.8,348.8 Z" fill="#e8922c"/>
<path d="M640.6,347.2 L643.8,345 L643.6,349.2 Z" fill="#c2344c"/>
<text x="628.7" y="362" font-size="2.9" font-weight="bold" fill="#2a5aa8" textLength="15.9" lengthAdjust="spacingAndGlyphs">CUAJIMALPA</text>
<rect x="632" y="363.4" width="8" height="0.4" fill="#6a8ac0" opacity="0.5"/>
</g>
<g id="l15">
<path d="M673.8,343.8 H677.4 V345.6 H676 V352.4 H672.4 V347 H673.8 Z" fill="#111"/>
<path d="M678.4,352.4 V347.6 L681.8,344 L682.8,344 V352.4 H680.6 V348.4 L680,349 V352.4 Z" fill="#111"/>
<path d="M679.4,346.4 L682.4,343.2 L683.2,344 L680.2,347.2 Z" fill="#d0202c"/>
<rect x="670.4" y="353.3" width="13.6" height="0.5" fill="#d0202c"/>
<text x="667.8" y="359.9" font-size="5.7" font-weight="bold" fill="#111" stroke="#111" stroke-width="0.35" textLength="17" lengthAdjust="spacingAndGlyphs">Tláhuac</text>
<path d="M670.6,362.2 Q673,361.2 675,362 Q677,362.8 679,361.8 Q680.6,361.2 682,361.8" fill="none" stroke="#c0303c" stroke-width="0.45"/>
</g>
<g id="l16">
<path d="M710.6,345.6 V360.4 L719.4,364.4 L712.4,358 Z" fill="#000" opacity="0.28" filter="url(#sh)"/>
<path d="M712.2,343.5 H727.9 V358.6 L720.05,362.8 L712.2,358.6 Z" fill="#c8102e"/>
<g fill="none" stroke="#f6cdd4" stroke-width="0.5">
<path d="M717.6,346.2 H722.6 V351.2 Q720.1,353.6 717.6,351.2 Z"/>
<path d="M718.8,347.4 H721.4 M718.8,349 H721.4 M720.1,346.2 V352.4"/>
<path d="M716.6,346.4 V350 M723.6,346.4 V350"/>
</g>
<rect x="714.6" y="355.4" width="11" height="1.1" fill="#f2a6b4" opacity="0.9"/>
<rect x="716.8" y="357.3" width="6.6" height="0.5" fill="#f2a6b4" opacity="0.6"/>
</g>
</g>
</svg>
</body></html>
